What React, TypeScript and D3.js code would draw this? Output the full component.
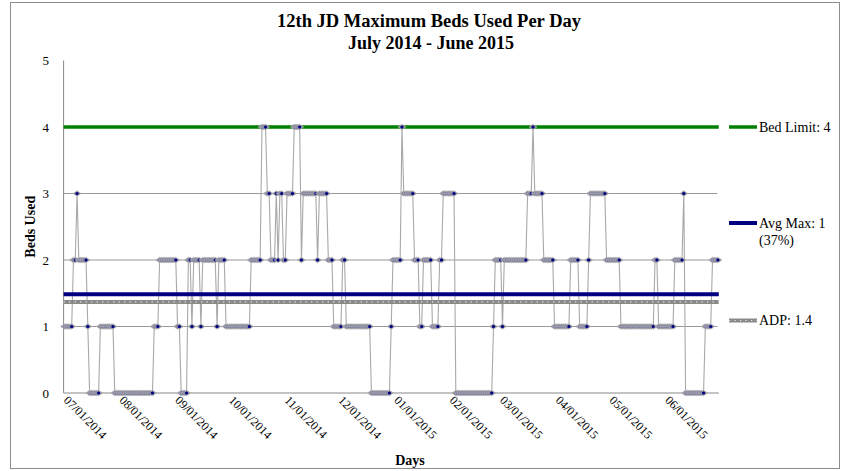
import React from "react";
import * as d3 from "d3";

// ---- data ----
const monthLabels = [
  "07/01/2014", "08/01/2014", "09/01/2014", "10/01/2014", "11/01/2014", "12/01/2014",
  "01/01/2015", "02/01/2015", "03/01/2015", "04/01/2015", "05/01/2015", "06/01/2015",
];
const jul = [1,1,1,1,1,2,2,3,2,2,2,2,2,1,0,0,0,0,0,0,1,1,1,1,1,1,1,1,0,0,0];
const aug = [0,0,0,0,0,0,0,0,0,0,0,0,0,0,0,0,0,0,0,1,1,1,2,2,2,2,2,2,2,2,2];
const sep = [2,1,1,0,0,0,0,2,2,1,2,2,2,2,1,2,2,2,2,2,2,2,2,1,2,2,2,2,1,1];
const oct = [1,1,1,1,1,1,1,1,1,1,1,1,2,2,2,2,2,2,4,4,4,3,3,2,2,2,3,2,3,3,2];
const nov = [2,3,3,3,3,4,4,4,4,2,3,3,3,3,3,3,3,3,2,3,3,3,3,3,2,2,2,1,1,1];
const dec = [1,1,2,2,1,1,1,1,1,1,1,1,1,1,1,1,1,1,0,0,0,0,0,0,0,0,0,0,0,1,2];
const jan = [2,2,2,2,4,3,3,3,3,3,3,2,2,2,1,1,2,2,2,2,2,1,1,1,1,2,2,3,3,3,3];
const feb = [3,3,3,0,0,0,0,0,0,0,0,0,0,0,0,0,0,0,0,0,0,0,0,0,1,2,2,2];
const mar = [2,1,2,2,2,2,2,2,2,2,2,2,2,2,2,3,3,3,4,3,3,3,3,3,2,2,2,2,2,2,1];
const apr = [1,1,1,1,1,1,1,1,2,2,2,2,2,1,1,1,1,1,2,3,3,3,3,3,3,3,3,3,2,2];
const may = [2,2,2,2,2,2,1,1,1,1,1,1,1,1,1,1,1,1,1,1,1,1,1,1,1,2,2,1,1,1,1];
const jun = [1,1,1,1,1,2,2,2,2,2,3,0,0,0,0,0,0,0,0,0,0,0,1,1,1,1,2,2,2,2];
const months = [jul, aug, sep, oct, nov, dec, jan, feb, mar, apr, may, jun];
const yTicks = [0, 1, 2, 3, 4, 5];
const bedLimit = 4;
const adp = 1.37;

const W = 846;
const H = 471;
const plotL = 63.6;
const plotR = 718.8;
const plotT = 60.5;
const plotB = 393;
const FONT = "'Liberation Serif', 'Times New Roman', serif";

export default function App() {
  const daily = months.flat();
  const start = new Date(2014, 6, 1);
  const end = new Date(2015, 6, 1);
  const x = d3.scaleTime().domain([start, end]).range([plotL, plotR]);
  const y = d3.scaleLinear().domain([0, 5]).range([plotB, plotT]);
  const pts = daily.map((v, i) => ({
    date: d3.timeHour.offset(d3.timeDay.offset(start, i), 12),
    v,
  }));
  const avgMax = d3.mean(daily) as number;
  const line = d3
    .line<{ date: Date; v: number }>()
    .x((d) => x(d.date))
    .y((d) => y(d.v));
  const monthStarts = d3.timeMonth.range(start, end);

  const legX1 = 729;
  const legX2 = 757;
  const legTextX = 759;

  return (
    <svg
      width={W}
      height={H}
      style={{ position: "absolute", left: 0, top: 0, background: "#fff" }}
      fontFamily={FONT}
    >
      <rect x={0} y={0} width={W} height={H} fill="#fff" />
      <rect x={10.5} y={2.5} width={829} height={466} fill="none" stroke="#8c8c8c" strokeWidth={1} />

      {/* title */}
      <text x={429} y={27} textAnchor="middle" fontSize={18} fontWeight="bold" textLength={304} lengthAdjust="spacingAndGlyphs">
        12th JD Maximum  Beds Used Per Day
      </text>
      <text x={431} y={49} textAnchor="middle" fontSize={18} fontWeight="bold" textLength={166} lengthAdjust="spacingAndGlyphs">
        July 2014 - June 2015
      </text>

      {/* gridlines */}
      {yTicks
        .filter((t) => t > 0 && t < 5)
        .map((t) => (
          <line key={t} x1={plotL} x2={plotR - 1.5} y1={y(t)} y2={y(t)} stroke="#999" strokeWidth={1} />
        ))}

      {/* axes */}
      <line x1={plotL} x2={plotL} y1={plotT} y2={plotB} stroke="#888" strokeWidth={1} />
      <line x1={plotL} x2={plotR} y1={plotB} y2={plotB} stroke="#888" strokeWidth={1} />

      {/* y tick labels */}
      {yTicks.map((t) => (
        <text key={t} x={49} y={y(t) + 4.5} textAnchor="end" fontSize={13}>
          {t}
        </text>
      ))}

      {/* x tick labels */}
      {monthStarts.map((m, i) => (
        <text
          key={i}
          transform={`translate(${x(m) - 0.5},${plotB + 8}) rotate(45)`}
          fontSize={12}
          textAnchor="start"
        >
          {monthLabels[i]}
        </text>
      ))}

      {/* axis titles */}
      <text x={410} y={465} textAnchor="middle" fontSize={14} fontWeight="bold">
        Days
      </text>
      <text
        transform={`translate(35,${(plotT + plotB) / 2}) rotate(-90)`}
        textAnchor="middle"
        fontSize={14}
        fontWeight="bold"
      >
        Beds Used
      </text>

      {/* series line */}
      <path d={line(pts) || ""} fill="none" stroke="#a8a8a8" strokeWidth={1.1} />

      {/* reference lines */}
      <line x1={plotL} x2={plotR} y1={y(adp)} y2={y(adp)} stroke="#8a8a8a" strokeWidth={4} />
      <line x1={plotL} x2={plotR} y1={y(adp)} y2={y(adp)} stroke="#e8e8e8" strokeWidth={1.2} strokeDasharray="1.2,4.3" />
      <line x1={plotL} x2={plotR} y1={y(avgMax)} y2={y(avgMax)} stroke="#000080" strokeWidth={4} />
      <line x1={plotL} x2={plotR} y1={y(bedLimit)} y2={y(bedLimit)} stroke="#008000" strokeWidth={3.5} />

      {/* markers */}
      {pts.map((d, i) => {
        const cx = x(d.date);
        const cy = y(d.v);
        return (
          <g key={i}>
            <path
              d={`M${cx - 4},${cy} L${cx},${cy - 2.8} L${cx + 4},${cy} L${cx},${cy + 2.8} Z`}
              fill="#8e8ea2"
              stroke="#b4b4b4"
              strokeWidth={0.6}
            />
            <circle cx={cx} cy={cy} r={1.6} fill="#000080" />
          </g>
        );
      })}

      {/* legend */}
      <line x1={legX1} x2={legX2} y1={y(bedLimit)} y2={y(bedLimit)} stroke="#008000" strokeWidth={3.5} />
      <text x={legTextX} y={y(bedLimit) + 4.5} fontSize={14}>
        Bed Limit: 4
      </text>
      <line x1={legX1} x2={legX2} y1={223} y2={223} stroke="#000080" strokeWidth={4} />
      <text x={legTextX} y={227.5} fontSize={14}>
        Avg Max: 1
      </text>
      <text x={legTextX} y={244.5} fontSize={14}>
        (37%)
      </text>
      <line x1={legX1} x2={legX2} y1={320.5} y2={320.5} stroke="#8a8a8a" strokeWidth={4} />
      <line x1={legX1} x2={legX2} y1={320.5} y2={320.5} stroke="#e8e8e8" strokeWidth={1.2} strokeDasharray="1.2,4.3" />
      <text x={legTextX} y={325} fontSize={14}>
        ADP: 1.4
      </text>
    </svg>
  );
}
